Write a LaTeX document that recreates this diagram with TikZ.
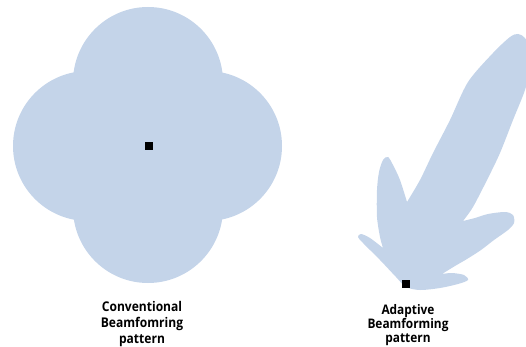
\documentclass[tikz,border=0pt]{standalone}
\usepackage{fontspec}
\newfontfamily\lblfont{Open Sans}[FakeStretch=0.9]
\definecolor{lobefill}{RGB}{196,212,233}
\begin{document}
\begin{tikzpicture}[x=1pt,y=-1pt,
  lobe/.style={fill=lobefill,draw=none},
  antenna/.style={rectangle,fill=black,draw=none,minimum size=8pt,inner sep=0pt},
  caption/.style={align=center,inner sep=0pt,anchor=north},
  bigcap/.style={caption,font={\lblfont\bfseries\fontsize{13.4}{16.3}\selectfont}},
  smallcap/.style={caption,font={\lblfont\bfseries\fontsize{13.2}{14.2}\selectfont}}]
\useasboundingbox (0,0) rectangle (526,347);
\begin{scope}
\clip (0,0) rectangle (526,347);
% conventional pattern: four overlapping round lobes
\fill[lobe] (148,82) circle[radius=75];
\fill[lobe] (88,146) circle[radius=75];
\fill[lobe] (207,146) circle[radius=75];
\fill[lobe] (148,208) circle[radius=75];
% adaptive pattern: one main beam plus side lobes
\fill[lobe]
  plot[smooth] coordinates {(383,248) (370,238) (361,234) (358,237) (363,243) (380,260) (396,277) (406,287) (420,290) (440,288) (458,284) (468,280) (464,275) (452,273) (442,274)}
  -- plot[smooth] coordinates {(442,274) (455,266) (467,259) (481,250) (494,240) (508,230) (514,223) (513,215) (505,212) (488,214) (475,218) (463,221)}
  -- plot[smooth] coordinates {(463,221) (473,207) (487,180) (500,153) (513,120) (525,90) (530,68) (530,50) (525,38) (518,34) (510,37) (493,53) (468,82) (450,120) (433,153) (420,180) (407,202)}
  -- plot[smooth] coordinates {(407,202) (400,180) (393,165) (388,157) (383,160) (379,172) (377,190) (377,217) (380,237) (383,248)}
  -- cycle;
\end{scope}
% array positions
\node[antenna] (omniant) at (149,146) {};
\node[antenna] (adaptant) at (406,284) {};
% captions
\node[bigcap] (omnicap) at (142,301) {Conventional\\Beamfomring\\pattern};
\node[smallcap] (adaptcap) at (408,303.8) {Adaptive\\Beamforming\\pattern};
\end{tikzpicture}
\end{document}
